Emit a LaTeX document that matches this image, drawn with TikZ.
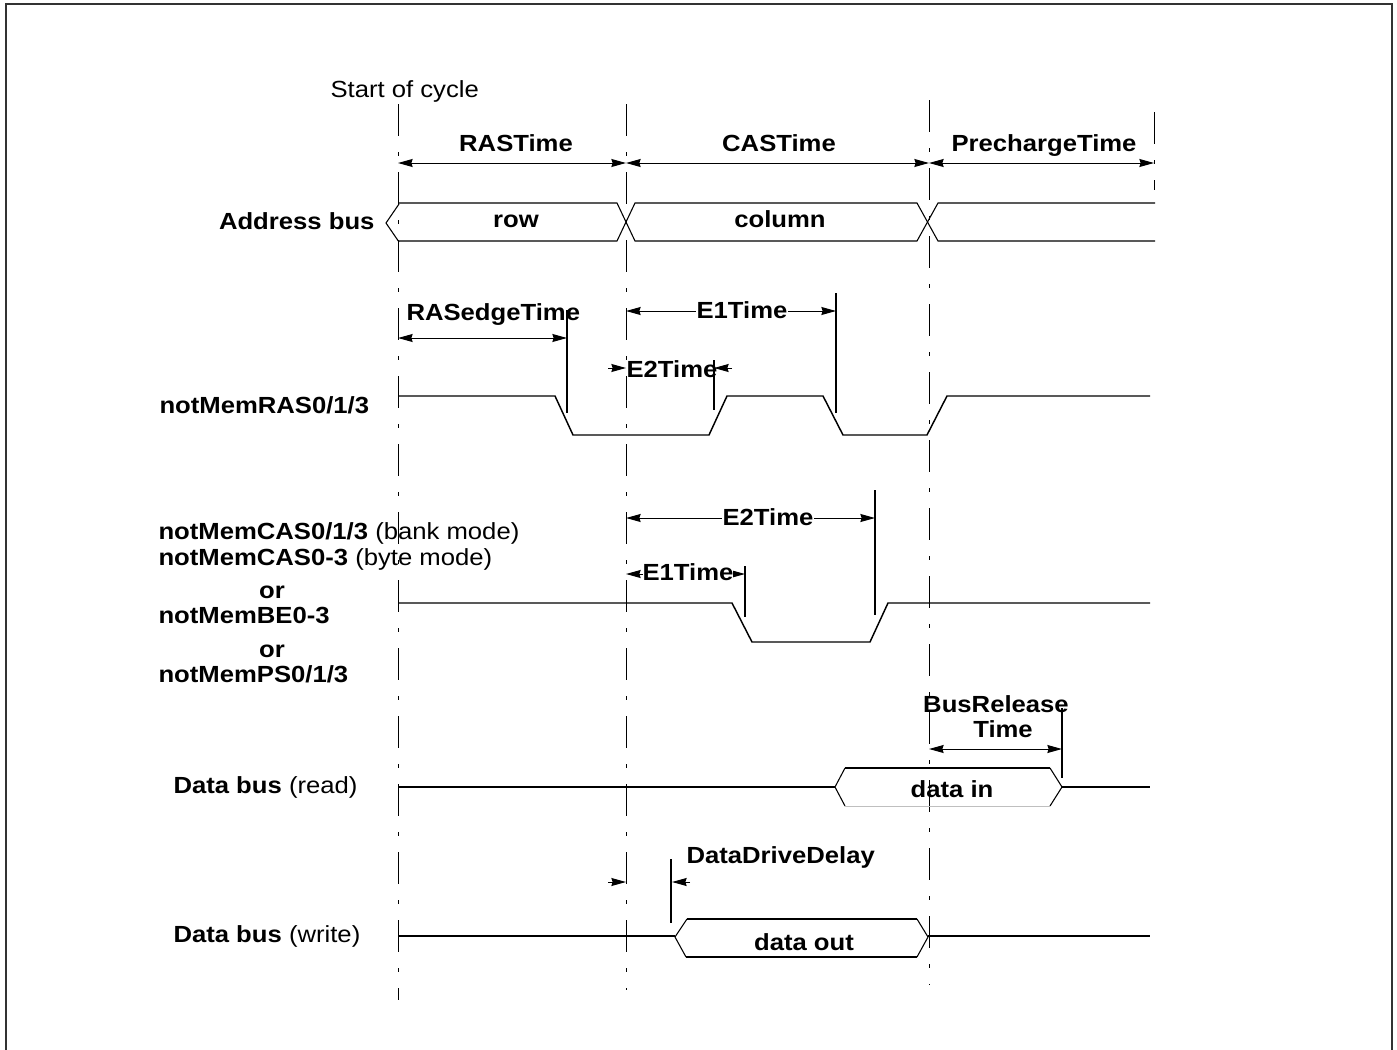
\documentclass[tikz,border=0pt]{standalone}
\usepackage{fontspec}
\setmainfont{Liberation Sans}[FakeStretch=1.1]
\usetikzlibrary{arrows.meta}

\tikzset{every picture/.style={line width=0.75pt}}
\tikzset{
  lbl/.style={inner sep=0.75pt, font=\fontsize{17.5}{20}\selectfont},
  blbl/.style={inner sep=0.75pt, font=\fontsize{17.5}{20}\selectfont\bfseries},
  guide/.style={line width=0.75pt, dash pattern=on 24pt off 12pt on 3pt off 12pt},
  wave/.style={line width=1.1pt},
  bus/.style={line width=0.8pt},
  edgebar/.style={line width=1.5pt},
  dimarrow/.style={line width=0.75pt, {Stealth[length=11pt,width=6pt,inset=1pt]}-{Stealth[length=11pt,width=6pt,inset=1pt]}},
  halfarrow/.style={line width=0.75pt, -{Stealth[length=11pt,width=6pt,inset=1pt]}},
}

\begin{document}
\begin{tikzpicture}[x=0.75pt,y=0.75pt,yscale=-1,xscale=1]
\useasboundingbox (0,0) rectangle (1397,1050);

%Frame
\draw [line width=1.2pt, draw=black!80]  (6,1050) -- (6,4) -- (1392,4) -- (1392,1050) ;

%Guide lines (dash dot)
\draw [guide]  (398,104) -- (398,1000) ;
\draw [guide]  (626,104) -- (626,990) ;
\draw [guide]  (929,100) -- (929,985) ;
\draw [guide]  (1154,112) -- (1154,190) ;

% Text Node
\node [lbl, anchor=base west] (start) at (329,97) {Start of cycle};

%Cycle phases
\draw [dimarrow]  (398,163) -- (626,163) ;
\draw [dimarrow]  (626,163) -- (929,163) ;
\draw [dimarrow]  (929,163) -- (1154,163) ;
\node [blbl, anchor=base] (rastime) at (516,151) {RASTime};
\node [blbl, anchor=base] (castime) at (779,151) {CASTime};
\node [blbl, anchor=base] (pretime) at (1044,151) {PrechargeTime};

%Address bus
\draw [bus]  (399,204) -- (386,223) -- (399,242) ;
\draw [bus]  (398,203) -- (617,203) -- (635,241) -- (917,241) -- (938,203) -- (1155,203) ;
\draw [bus]  (398,241) -- (617,241) -- (635,203) -- (917,203) -- (938,241) -- (1155,241) ;
\node [blbl, anchor=base east] (addrbus) at (376,229) {Address bus};
\node [blbl, anchor=base] (row) at (516,227) {row};
\node [blbl, anchor=base] (column) at (780,227) {column};

%notMemRAS
\draw [wave]  (398,396) -- (555,396) -- (573,435) -- (709,435) -- (727,396) -- (823,396) -- (843,435) -- (927,435) -- (947,396) -- (1150,396) ;
\draw [edgebar]  (567,310) -- (567,413) ;
\draw [edgebar]  (836,293) -- (836,413) ;
\draw [edgebar]  (714,360) -- (714,410) ;
\node [blbl, anchor=base west] (rasname) at (158,413) {notMemRAS0/1/3};
% RASedgeTime
\draw [dimarrow]  (398,338) -- (567,338) ;
\node [blbl, anchor=base west] (rasedge) at (405,320) {RASedgeTime};
% E1Time
\draw [dimarrow]  (626,311) -- (836,311) ;
\node [blbl, anchor=base, fill=white] (rasEone) at (742,318) {E1Time};
% E2Time
\draw [halfarrow]  (608,368) -- (626,368) ;
\draw [halfarrow]  (732,368) -- (714,368) ;
\node [blbl, anchor=base] (rasEtwo) at (672,377) {E2Time};

%notMemCAS
\draw [wave]  (398,603) -- (732,603) -- (752,642) -- (870,642) -- (888,603) -- (1150,603) ;
\draw [edgebar]  (745,566) -- (745,617) ;
\draw [edgebar]  (875,490) -- (875,615) ;
\draw [dimarrow]  (626,518) -- (875,518) ;
\node [blbl, anchor=base, fill=white] (casEtwo) at (768,525) {E2Time};
\draw [dimarrow]  (626,574) -- (745,574) ;
\node [blbl, anchor=base, fill=white, inner sep=0pt] (casEone) at (688,580) {E1Time};
\node [lbl, anchor=base west] (casbank) at (157,539) {\bfseries notMemCAS0/1/3 \mdseries(bank mode)};
\node [lbl, anchor=base west] (casbyte) at (157,565) {\bfseries notMemCAS0-3 \mdseries(byte mode)};
\node [blbl, anchor=base] (orone) at (272,598) {or};
\node [blbl, anchor=base west] (bename) at (157,623) {notMemBE0-3};
\node [blbl, anchor=base] (ortwo) at (272,657) {or};
\node [blbl, anchor=base west] (psname) at (157,682) {notMemPS0/1/3};

%Data bus (read)
\draw [bus]  (398,787) -- (835,787) ;
\draw [bus]  (845,768) -- (835,787) -- (845,806) ;
\draw [bus]  (845,768) -- (1050,768) ;
\draw [line width=0.4pt, draw=black!25]  (845,806) -- (1050,806) ;
\draw [bus]  (1050,768) -- (1062,787) -- (1050,806) ;
\draw [bus]  (1062,787) -- (1150,787) ;
\draw [edgebar]  (1062,708) -- (1062,778) ;
\draw [dimarrow]  (929,749) -- (1062,749) ;
\node [blbl, anchor=base] (busrel) at (996,712) {BusRelease};
\node [blbl, anchor=base] (busreltime) at (1003,737) {Time};
\node [blbl, anchor=base] (datain) at (952,797) {data in};
\node [lbl, anchor=base west] (readname) at (172,793) {\bfseries Data bus \mdseries(read)};

%Data bus (write)
\draw [bus]  (398,936) -- (675,936) ;
\draw [bus]  (687,919) -- (675,937) -- (686,957) ;
\draw [bus]  (687,919) -- (917,919) ;
\draw [bus]  (686,957) -- (917,957) ;
\draw [bus]  (917,919) -- (928,937) -- (917,957) ;
\draw [bus]  (928,936) -- (1150,936) ;
\draw [edgebar]  (671,859) -- (671,923) ;
\draw [halfarrow]  (608,882) -- (626,882) ;
\draw [halfarrow]  (690,882) -- (672,882) ;
\node [blbl, anchor=base west] (drive) at (685,863) {DataDriveDelay};
\node [blbl, anchor=base] (dataout) at (804,950) {data out};
\node [lbl, anchor=base west] (writename) at (172,942) {\bfseries Data bus \mdseries(write)};

\end{tikzpicture}
\end{document}
